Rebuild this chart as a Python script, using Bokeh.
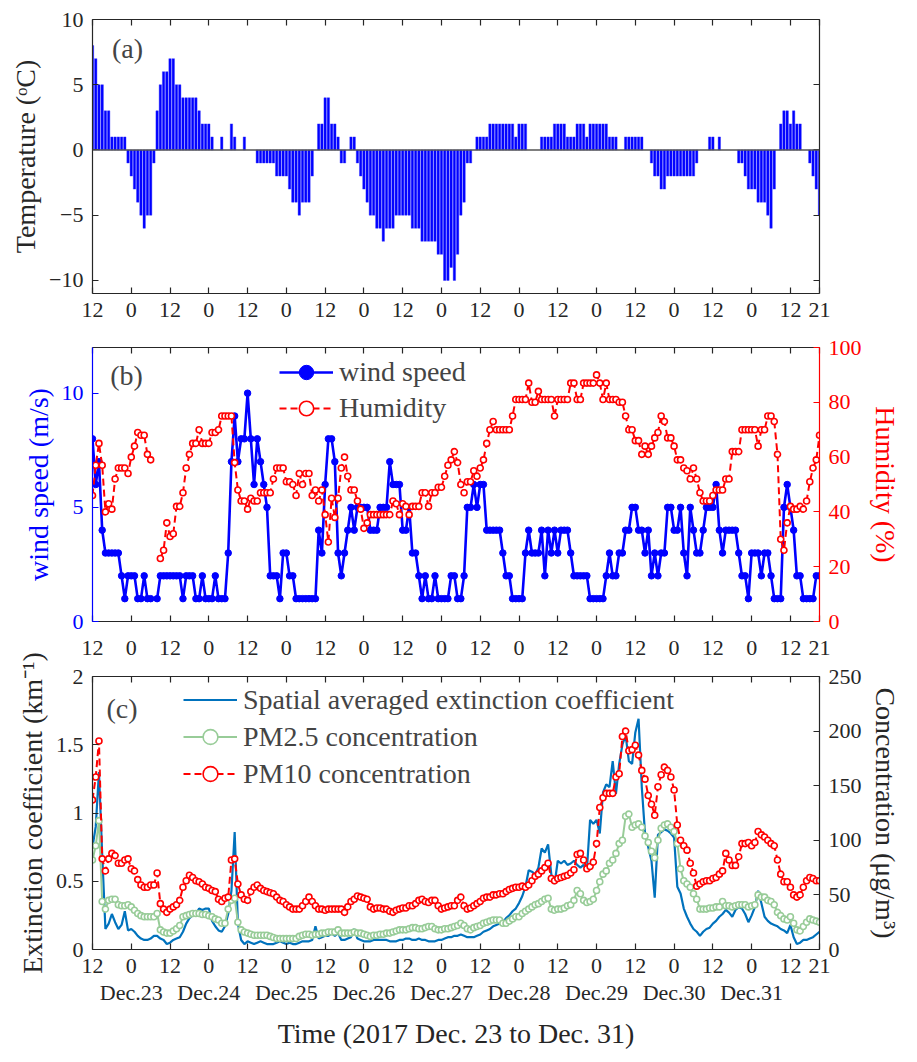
import math
from bokeh.plotting import figure
from bokeh.models import (Range1d, LinearAxis, FixedTicker, Span, Label,
                          Legend, LegendItem)
from bokeh.layouts import column
from bokeh.embed import file_html
from bokeh.resources import INLINE

FONT = "Liberation Serif"
TICK_FS = "22px"
LABEL_FS = "28px"
AXIS_GREY = "#262626"

# hours since 2017-12-22 12:00
hours = list(range(226))

xtick_hours = [0, 12, 24, 36, 48, 60, 72, 84, 96, 108, 120, 132, 144, 156,
               168, 180, 192, 204, 216, 225]
xtick_labels = ["12", "0", "12", "0", "12", "0", "12", "0", "12", "0", "12",
                "0", "12", "0", "12", "0", "12", "0", "12", "21"]
date_hours = [12, 36, 60, 84, 108, 132, 156, 180, 204]
date_labels = ["Dec.23", "Dec.24", "Dec.25", "Dec.26", "Dec.27", "Dec.28",
               "Dec.29", "Dec.30", "Dec.31"]

# (a) hourly temperature, degC (None = no record)
temperature = [
    8, 7, 5, 5, 3, 3, 1, 1, 1, 1, 1, -1, -2, -3, -4, -5, -6, -5, -5, -1,
    3, 5, 6, 6, 7, 7, 5, 5, 4, 4, 4, 4, 4, 3, 2, 2, 2, 1, None, None,
    1, None, None, 2, 1, None, None, 1, None, None, None, -1, -1, -1, -1, -1, -1, -2, -2, -2,
    -2, -3, -4, -4, -5, -4, -4, -4, -2, None, 2, 2, 4, 4, 2, 2, 1, -1, -1, None,
    1, 1, -1, -2, -3, -4, -5, -5, -6, -6, -7, -6, -6, -6, -5, -5, -5, -5, -5, -6,
    -6, -6, -7, -7, -7, -7, -7, -8, -8, -10, -10, -9, -10, -8, -5, -4, -1, -1, None, 1,
    1, 1, 1, 2, 2, 2, 2, 2, 2, 2, 2, 1, 2, 2, 2, None, None, None, None, 1,
    1, 1, 1, 2, 2, 2, 2, 1, 1, 1, 2, 2, 2, 1, 2, 2, 2, 2, 2, 2,
    1, 1, 1, None, None, 1, 1, 1, 1, 1, 1, None, None, -1, -2, -2, -3, -3, -2, -2,
    -2, -2, -2, -2, -2, -2, -2, -1, None, None, None, 1, 1, None, 1, None, None, None, None, None,
    -1, -1, -2, -3, -3, -3, -4, -4, -4, -5, -6, -3, None, 2, 3, 3, 2, 3, 2, 2,
    None, None, -1, -2, -3, -5,
]

# (b) hourly wind speed, m/s
wind_speed = [
    8, 6, 7, 4, 3, 3, 3, 3, 3, 2, 1, 2, 2, 2, 1, 1, 2, 1, 1, None,
    1, 2, 2, 2, 2, 2, 2, 2, 1, 2, 2, 2, 1, 1, 2, 1, 1, 1, 2, 1,
    1, 1, 3, 7, 9, 7, 8, 8, 10, 8, 6, 8, 7, 6, 5, 2, 2, 2, 1, 3,
    3, 2, 2, 1, 1, 1, 1, 1, 1, 1, 4, 3, 6, 8, 8, 7, 3, 2, 3, 4,
    5, 4, 5, 5, 5, 5, 4, 4, 4, 5, 5, 5, 7, 6, 6, 6, 4, 4, 5, 3,
    3, 2, 1, 2, 1, 1, 2, 1, 1, 1, 1, 2, 2, 1, 1, 2, 5, 5, 6, 5,
    6, 6, 4, 4, 4, 4, 4, 3, 2, 2, 1, 1, 1, 1, 3, 4, 3, 3, 3, 4,
    2, 4, 3, 4, 3, 4, 4, 4, 3, 2, 2, 2, 2, 2, 1, 1, 1, 1, 1, 2,
    3, 2, 2, 3, 3, 4, 4, 5, 5, 4, 4, 3, 4, 2, 3, 2, 3, 3, 5, 5,
    4, 4, 5, 3, 2, 5, 4, 3, 3, 4, 5, 5, 5, 6, 4, 3, 4, 4, 4, 4,
    3, 2, 2, 1, 3, 3, 3, 2, 3, 3, 2, 1, 1, 1, 5, 6, 5, 4, 2, 2,
    1, 1, 1, 1, 2, 2,
]

# (b) hourly relative humidity, %
humidity = [
    46, 57, 65, 57, 40, 43, 41, 52, 56, 56, 56, 54, 60, 64, 69, 68, 68, 61, 59, None,
    None, 23, 26, 36, 31, 32, 42, 42, 47, 56, 61, 65, 65, 70, 65, 65, 65, 69, 69, 70,
    75, 75, 75, 75, 58, 48, 44, 44, 41, 45, 44, 44, 47, 47, 47, 47, 52, 56, 56, 56,
    51, 51, 50, 46, 54, 50, 54, 54, 46, 48, 44, 48, 39, 29, 45, 38, 45, 56, 60, 53,
    48, 48, 44, 41, 34, 36, 39, 39, 39, 39, 39, 39, 39, 44, 43, 39, 43, 42, 39, 42,
    42, 42, 47, 47, 42, 47, 47, 49, 49, 53, 57, 59, 62, 58, 50, 47, 51, 51, 55, 53,
    56, 59, 65, 70, 73, 70, 70, 70, 70, 70, 75, 81, 81, 81, 81, 87, 80, 80, 84, 81,
    81, 81, 81, 75, 81, 81, 81, 81, 87, 87, 81, 81, 87, 87, 87, 87, 90, 87, 81, 87,
    81, 81, 81, 80, 80, 75, 70, 70, 66, 66, 61, 64, 61, 64, 67, 69, 75, 73, 67, 67,
    64, 59, 59, 56, 55, 52, 56, 52, 47, 44, 44, 44, 46, 48, 48, 48, 52, 52, 62, 62,
    62, 70, 70, 70, 70, 70, 64, 70, 70, 75, 75, 73, 61, 30, 26, 36, 42, 41, 41, 42,
    41, 44, 51, 56, 59, 68,
]

# (c) spatially averaged extinction coefficient, 1/km
extinction = [
    0.75, 0.90, 1.30, 0.70, 0.15, 0.19, 0.26, 0.20, 0.15, 0.18,
    0.28, 0.14, 0.15, 0.13, 0.10, 0.08, 0.07, 0.07, 0.08, 0.10,
    0.10, 0.08, 0.07, 0.04, 0.05, 0.07, 0.08, 0.09, 0.13, 0.19,
    0.23, 0.25, 0.26, 0.30, 0.29, 0.30, 0.30, 0.21, 0.17, 0.14,
    0.13, 0.17, 0.26, 0.43, 0.86, 0.19, 0.07, 0.04, 0.06, 0.05,
    0.04, 0.05, 0.06, 0.05, 0.04, 0.04, 0.04, 0.05, 0.06, 0.05,
    0.04, 0.05, 0.04, 0.04, 0.05, 0.06, 0.06, 0.06, 0.07, 0.17,
    0.08, 0.09, 0.10, 0.10, 0.12, 0.10, 0.12, 0.07, 0.07, 0.08,
    0.09, 0.15, 0.08, 0.07, 0.06, 0.06, 0.06, 0.07, 0.07, 0.07,
    0.07, 0.07, 0.06, 0.06, 0.06, 0.07, 0.07, 0.08, 0.08, 0.07,
    0.07, 0.08, 0.07, 0.07, 0.06, 0.06, 0.06, 0.07, 0.07, 0.08,
    0.09, 0.09, 0.10, 0.10, 0.11, 0.10, 0.09, 0.09, 0.09, 0.10,
    0.11, 0.13, 0.14, 0.15, 0.17, 0.18, 0.19, 0.20, 0.23, 0.25,
    0.28, 0.30, 0.34, 0.39, 0.46, 0.58, 0.57, 0.55, 0.60, 0.74,
    0.71, 0.77, 0.55, 0.48, 0.65, 0.63, 0.65, 0.62, 0.63, 0.65,
    0.62, 0.60, 0.62, 0.58, 0.95, 0.92, 0.95, 0.85, 1.15, 1.21,
    1.19, 1.38, 1.14, 1.36, 1.50, 1.57, 1.38, 1.36, 1.59, 1.69,
    1.19, 0.85, 0.75, 0.65, 0.38, 0.84, 0.86, 0.88, 0.87, 0.85,
    0.82, 0.46, 0.41, 0.30, 0.24, 0.19, 0.15, 0.13, 0.10, 0.13,
    0.15, 0.16, 0.19, 0.21, 0.24, 0.26, 0.29, 0.27, 0.24, 0.29,
    0.31, 0.30, 0.26, 0.20, 0.25, 0.31, 0.43, 0.34, 0.24, 0.21,
    0.19, 0.18, 0.17, 0.15, 0.14, 0.12, 0.18, 0.09, 0.04, 0.05,
    0.07, 0.07, 0.08, 0.09, 0.11, 0.13,
]

# (c) hourly PM2.5 concentration, ug/m3
pm25 = [
    82, 95, 118, 44, 37, 45, 46, 46, 41, 40, 40, 41, 39, 36, 33, 31, 30, 30, 30, 30,
    33, 18, 16, 15, 15, 17, 19, 22, 30, 31, 32, 33, 33, 33, 32, 32, 31, 30, 28, 27,
    24, 24, 37, 45, 47, 25, 18, 16, 15, 14, 13, 13, 13, 13, 13, 12, 11, 10, 10, 10,
    10, 10, 10, 10, 12, 13, 14, 14, 13, 14, 14, 15, 15, 16, 16, 16, 18, 15, 15, 15,
    15, 16, 15, 15, 14, 13, 12, 13, 13, 14, 14, 15, 15, 16, 17, 18, 18, 18, 19, 20,
    20, 19, 19, 20, 21, 21, 19, 18, 18, 19, 19, 20, 21, 22, 24, 22, 19, 18, 20, 21,
    22, 24, 25, 26, 27, 27, 27, 24, 24, 26, 28, 30, 30, 33, 35, 37, 39, 41, 42, 44,
    46, 47, 37, 36, 37, 37, 38, 40, 41, 45, 54, 51, 45, 43, 44, 46, 54, 62, 69, 72,
    79, 82, 88, 97, 100, 122, 124, 112, 114, 115, 112, 104, 98, 90, 84, 100, 111, 114, 115, 112,
    108, 97, 74, 63, 60, 57, 51, 46, 37, 37, 37, 38, 38, 39, 39, 44, 40, 40, 39, 40,
    41, 41, 41, 39, 40, 41, 50, 48, 48, 45, 44, 41, 34, 31, 28, 27, 30, 24, 18, 17,
    21, 25, 28, 27, 26, 25,
]

# (c) hourly PM10 concentration, ug/m3
pm10 = [
    137, 158, 191, 83, 72, 83, 88, 86, 79, 79, 82, 83, 74, 72, 64, 59, 57, 57, 59, 59,
    70, 42, 37, 34, 37, 39, 41, 45, 57, 63, 68, 66, 63, 62, 60, 57, 56, 54, 53, 46,
    44, 47, 48, 82, 83, 60, 50, 46, 45, 53, 57, 59, 56, 54, 53, 52, 51, 48, 45, 44,
    41, 39, 37, 37, 37, 40, 44, 48, 44, 40, 37, 37, 36, 37, 37, 37, 37, 37, 34, 39,
    44, 46, 49, 48, 47, 46, 39, 37, 38, 38, 37, 37, 35, 34, 36, 37, 38, 38, 40, 40,
    42, 45, 46, 44, 43, 45, 45, 40, 37, 38, 39, 40, 40, 45, 48, 40, 37, 38, 40, 42,
    44, 47, 48, 48, 50, 50, 51, 51, 53, 55, 56, 57, 57, 58, 57, 59, 63, 67, 69, 72,
    75, 79, 65, 63, 65, 66, 67, 68, 70, 73, 87, 88, 82, 74, 76, 80, 97, 130, 139, 143,
    143, 143, 158, 161, 195, 200, 182, 183, 187, 178, 164, 156, 141, 133, 123, 149, 160, 167, 164, 158,
    146, 114, 100, 95, 91, 79, 70, 58, 60, 62, 63, 63, 65, 66, 69, 72, 88, 82, 77, 77,
    85, 97, 97, 98, 95, 98, 108, 105, 103, 100, 97, 95, 82, 69, 62, 62, 57, 50, 48, 50,
    57, 63, 66, 65, 63, 63,
]


def nan_list(values):
    return [float("nan") if v is None else v for v in values]


def style_axis(ax, color=AXIS_GREY, show_labels=True):
    ax.axis_line_color = color
    ax.axis_line_width = 1.2
    ax.major_tick_line_color = color
    ax.major_tick_line_width = 1.2
    ax.major_tick_in = 6
    ax.major_tick_out = 0
    ax.minor_tick_line_color = None
    ax.major_label_text_font = FONT
    ax.axis_label_text_font = FONT
    ax.axis_label_text_font_size = LABEL_FS
    ax.axis_label_text_font_style = "normal"
    ax.axis_label_text_color = color
    if show_labels:
        ax.major_label_text_color = color
        ax.major_label_text_font_size = TICK_FS
        ax.major_label_standoff = 9
    else:
        # tick marks only: labels are not painted and take no room
        ax.major_label_text_color = None
        ax.major_label_text_alpha = 0
        ax.major_label_text_font_size = "0px"
        ax.major_label_standoff = 0


def make_fig(height, top, bottom, y0, y1, bottom_labels=True):
    p = figure(width=917, height=height, x_range=Range1d(0, 225),
               y_range=Range1d(y0, y1), output_backend="svg",
               toolbar_location=None, min_border_left=92,
               min_border_right=98, min_border_top=top,
               min_border_bottom=bottom)
    p.xgrid.visible = False
    p.ygrid.visible = False
    p.outline_line_color = None
    p.background_fill_color = "white"
    p.border_fill_color = "white"
    xa = p.xaxis[0]
    xa.ticker = FixedTicker(ticks=xtick_hours)
    style_axis(xa, show_labels=bottom_labels)
    if bottom_labels:
        xa.major_label_overrides = dict(zip(xtick_hours, xtick_labels))
    top_ax = LinearAxis(ticker=FixedTicker(ticks=xtick_hours))
    style_axis(top_ax, show_labels=False)
    p.add_layout(top_ax, "above")
    return p


def panel_label(p, x, y, text):
    p.add_layout(Label(x=x, y=y, text=text, text_font=FONT,
                       text_font_size="28px", text_baseline="top",
                       text_align="left"))


def style_legend(leg, row_h):
    leg.label_text_font = FONT
    leg.label_text_font_size = "28px"
    leg.glyph_width = 54
    leg.glyph_height = row_h
    leg.label_height = row_h
    leg.label_standoff = 6
    leg.spacing = 0
    leg.padding = 0
    leg.margin = 0
    leg.border_line_color = None
    leg.background_fill_alpha = 0


# ---------------- (a) temperature bars ----------------
pa = make_fig(333, 19, 40, -11, 10)
ya = pa.yaxis[0]
ya.ticker = FixedTicker(ticks=[-10, -5, 0, 5, 10])
ya.axis_label = "Temperature (ᵒC)"
style_axis(ya)
ra = LinearAxis(ticker=FixedTicker(ticks=[-10, -5, 0, 5, 10]))
style_axis(ra, show_labels=False)
pa.add_layout(ra, "right")

bar_x = [h for h, t in zip(hours, temperature) if t is not None]
bar_t = [t for t in temperature if t is not None]
pa.vbar(x=bar_x, top=bar_t, bottom=0, width=0.74, fill_color="#0000FF",
        line_color="#2a2aff", line_width=0.4)
pa.add_layout(Span(location=0, dimension="width", line_color="#555555",
                   line_width=1.3))
panel_label(pa, 6.0, 9.0, "(a)")

# ---------------- (b) wind speed and humidity ----------------
# its time labels are drawn along the top of panel (c)
pb = make_fig(302, 14, 14, 0, 12, bottom_labels=False)
pb.extra_y_ranges = {"hum": Range1d(0, 100)}
yb = pb.yaxis[0]
yb.ticker = FixedTicker(ticks=[0, 5, 10])
yb.axis_label = "wind speed (m/s)"
style_axis(yb, color="#0000FF")
rb = LinearAxis(y_range_name="hum", ticker=FixedTicker(ticks=[0, 20, 40, 60, 80, 100]),
                axis_label="Humidity (%)")
style_axis(rb, color="#FF0000")
pb.add_layout(rb, "right")

ws = nan_list(wind_speed)
hu = nan_list(humidity)
wl = pb.line(hours, ws, line_color="#0000FF", line_width=2.6)
wm = pb.scatter(hours, ws, marker="circle", size=6.5, fill_color="#0000FF",
                line_color="#0000FF")
hl = pb.line(hours, hu, y_range_name="hum", line_color="#FF0000",
             line_width=2.0, line_dash="7 4")
hm = pb.scatter(hours, hu, y_range_name="hum", marker="circle", size=6,
                fill_color="white", line_color="#FF0000", line_width=1.6)
leg_b = Legend(items=[LegendItem(label="wind speed", renderers=[wl, wm]),
                      LegendItem(label="Humidity", renderers=[hl, hm])],
               location=(187, 195))
style_legend(leg_b, 36)
pb.add_layout(leg_b)
panel_label(pb, 5.5, 11.45, "(b)")

# ---------------- (c) extinction and particulate matter ----------------
pc = make_fig(427, 41, 113, 0, 2)
pc.extra_y_ranges = {"conc": Range1d(0, 250)}

# time labels belonging to panel (b), placed in the gap above panel (c)
b_time_ax = LinearAxis(ticker=FixedTicker(ticks=xtick_hours),
                       major_label_overrides=dict(zip(xtick_hours, xtick_labels)))
style_axis(b_time_ax)
b_time_ax.axis_line_color = None
b_time_ax.major_tick_line_color = None
b_time_ax.major_label_standoff = 22
pc.add_layout(b_time_ax, "above")

yc = pc.yaxis[0]
yc.ticker = FixedTicker(ticks=[0, 0.5, 1, 1.5, 2])
yc.major_label_overrides = {0: "0", 0.5: "0.5", 1: "1", 1.5: "1.5", 2: "2"}
yc.axis_label = "Extinction coefficient (km⁻¹)"
style_axis(yc)
rc = LinearAxis(y_range_name="conc", ticker=FixedTicker(ticks=[0, 50, 100, 150, 200, 250]),
                axis_label="Concentration (μg/m³)")
style_axis(rc)
pc.add_layout(rc, "right")

date_ax = LinearAxis(ticker=FixedTicker(ticks=date_hours),
                     major_label_overrides=dict(zip(date_hours, date_labels)),
                     axis_label="Time (2017 Dec. 23 to Dec. 31)")
style_axis(date_ax)
date_ax.axis_line_color = None
date_ax.major_tick_line_color = None
date_ax.major_label_standoff = 4
date_ax.axis_label_standoff = 10
pc.add_layout(date_ax, "below")

el = pc.line(hours, extinction, line_color="#0072BD", line_width=2.2)
gl = pc.line(hours, pm25, y_range_name="conc", line_color="#98CC98", line_width=2.0)
gm = pc.scatter(hours, pm25, y_range_name="conc", marker="circle", size=6,
                fill_color="white", line_color="#98CC98", line_width=1.6)
rl = pc.line(hours, pm10, y_range_name="conc", line_color="#FF0000",
             line_width=2.0, line_dash="7 4")
rm = pc.scatter(hours, pm10, y_range_name="conc", marker="circle", size=6,
                fill_color="white", line_color="#FF0000", line_width=1.6)
leg_c = Legend(items=[LegendItem(label="Spatial averaged extinction coefficient", renderers=[el]),
                      LegendItem(label="PM2.5 concentration", renderers=[gl, gm]),
                      LegendItem(label="PM10 concentration", renderers=[rl, rm])],
               location=(91, 157))
style_legend(leg_c, 37)
pc.add_layout(leg_c)
panel_label(pc, 4.3, 1.88, "(c)")

layout = column(pa, pb, pc, spacing=0)
open("out.html", "w").write(file_html(layout, INLINE))
